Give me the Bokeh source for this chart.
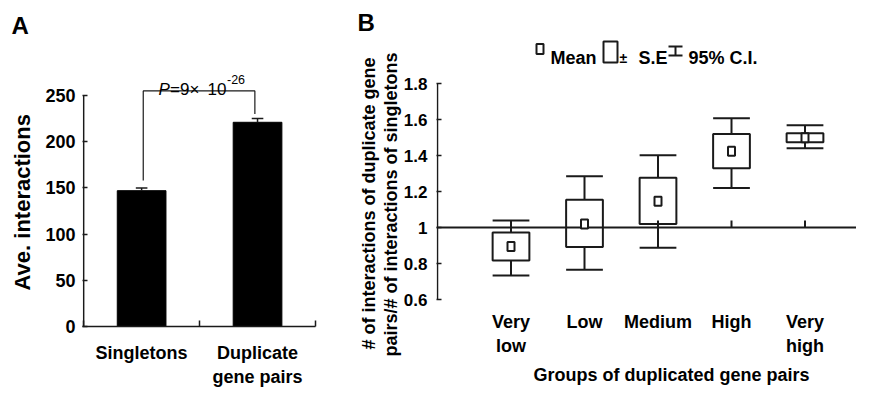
from bokeh.plotting import figure
from bokeh.models import Range1d, FixedTicker, Span, Title
from bokeh.layouts import row, column
from bokeh.embed import file_html
from bokeh.resources import INLINE
from bokeh.core.properties import value

FONT = "Liberation Sans"
INK = "#1a1a1a"

# ---------------- Panel A data ----------------
a_categories = ["Singletons", "Duplicate\ngene pairs"]
a_means = [147, 221]
a_errors = [3, 4]
a_yticks = [0, 50, 100, 150, 200, 250]
a_pvalue_main = "=9\u00d7"
a_pvalue_base = "10"
a_pvalue_exp = "-26"

# ---------------- Panel B data ----------------
b_groups = ["Very\nlow", "Low", "Medium", "High", "Very\nhigh"]
b_mean = [0.894, 1.02, 1.146, 1.424, 1.498]
b_se_lo = [0.817, 0.891, 1.02, 1.329, 1.474]
b_se_hi = [0.972, 1.154, 1.276, 1.52, 1.524]
b_ci_lo = [0.733, 0.765, 0.887, 1.22, 1.44]
b_ci_hi = [1.039, 1.285, 1.402, 1.607, 1.568]
b_yticks = [0.6, 0.8, 1.0, 1.2, 1.4, 1.6, 1.8]
b_ref = 1.0

FIG_H = 389


def make_title(text, size, style="bold", **kw):
    return Title(text=text, text_font=FONT, text_font_size=size, text_font_style=style,
                 text_color="black", **kw)


common = dict(text_font=value(FONT), text_baseline="alphabetic", text_align="left", text_color="black")

# =============== Panel A ===============
A_UNIT_X = 115.92     # px per category
A_UNIT_Y = 0.924      # px per interaction
a_x0 = -0.01
A_TOP, A_BOTTOM = 38, 63
pA = figure(width=330, height=FIG_H, x_range=Range1d(a_x0, 2.0),
            y_range=Range1d(0, (FIG_H - A_TOP - A_BOTTOM) / A_UNIT_Y),
            output_backend="svg", toolbar_location=None,
            min_border_left=82, min_border_right=15,
            min_border_top=A_TOP, min_border_bottom=A_BOTTOM)
pA.outline_line_color = None
pA.grid.visible = False

ax_pos = [i + 0.5 for i in range(len(a_categories))]
pA.vbar(x=ax_pos, top=a_means, width=0.42, fill_color="black", line_color="black")
err_top = [m + e for m, e in zip(a_means, a_errors)]
pA.segment(x0=ax_pos, y0=a_means, x1=ax_pos, y1=err_top, line_color=INK, line_width=1.5)
pA.segment(x0=[x - 0.05 for x in ax_pos], y0=err_top, x1=[x + 0.05 for x in ax_pos], y1=err_top,
           line_color=INK, line_width=1.5)
# y axis line (only up to the top tick)
pA.segment(x0=[0], y0=[a_yticks[0]], x1=[0], y1=[a_yticks[-1]], line_color=INK, line_width=1.5)

# significance bracket
br_top = 255
br_x = [ax_pos[0] + 0.014, ax_pos[0] + 0.014, ax_pos[1] - 0.023, ax_pos[1] - 0.023]
br_y = [err_top[0] + 8, br_top, br_top, err_top[1] + 5]
pA.line(x=br_x, y=br_y, line_color=INK, line_width=1.2)


def ax_(px):
    return a_x0 + (px - 82) / A_UNIT_X


def ay_(py):
    return (326 - py) / A_UNIT_Y


pA.text(x=[ax_(158)], y=[ay_(88.5)], text=["P"], text_font_size="17px", text_font_style="italic", **common)
pA.text(x=[ax_(169.5)], y=[ay_(88.5)], text=[a_pvalue_main], text_font_size="17px", **common)
pA.text(x=[ax_(207)], y=[ay_(88.5)], text=[a_pvalue_base], text_font_size="17px", **common)
pA.text(x=[ax_(226.5)], y=[ay_(78.5)], text=[a_pvalue_exp], text_font_size="12.5px", **common)

pA.add_layout(make_title("A", "24px", align="left", offset=-71, standoff=0), "above")
# align="left" on a left panel: text starts offset px above the frame bottom
pA.add_layout(make_title("Ave. interactions", "22px", align="left", offset=36, standoff=15), "left")

pA.xaxis.ticker = FixedTicker(ticks=ax_pos, minor_ticks=[0, 1, 2])
pA.xaxis.major_label_overrides = {x: c for x, c in zip(ax_pos, a_categories)}
pA.xaxis.major_tick_line_color = None
pA.xaxis.minor_tick_in = 6
pA.xaxis.minor_tick_out = 0
pA.xaxis.minor_tick_line_color = INK
pA.xaxis.minor_tick_line_width = 1.5
pA.xaxis.axis_line_color = INK
pA.xaxis.axis_line_width = 1.5
pA.xaxis.major_label_standoff = 10

pA.yaxis.ticker = FixedTicker(ticks=a_yticks, minor_ticks=[])
pA.yaxis.axis_line_color = None
pA.yaxis.major_tick_in = 5
pA.yaxis.major_tick_out = 0
pA.yaxis.major_tick_line_color = INK
pA.yaxis.major_tick_line_width = 1.5
pA.yaxis.major_label_standoff = 7
for ax in (pA.xaxis, pA.yaxis):
    ax.major_label_text_font = FONT
    ax.major_label_text_font_style = "bold"
    ax.major_label_text_font_size = "18px"
    ax.major_label_text_color = "black"

# =============== Panel B ===============
B_UNIT_X = 73.5
B_UNIT_Y = 180.0
B_TOP, B_BOTTOM = 38, 90
pB = figure(width=526, height=FIG_H,
            x_range=Range1d(-1 / B_UNIT_X, 419 / B_UNIT_X),
            y_range=Range1d(0.6, 0.6 + (FIG_H - B_TOP - B_BOTTOM) / B_UNIT_Y),
            output_backend="svg", toolbar_location=None,
            min_border_left=106, min_border_right=0,
            min_border_top=B_TOP, min_border_bottom=B_BOTTOM)
pB.outline_line_color = None
pB.grid.visible = False


def bx_(px):
    return (px - 437) / B_UNIT_X


def by_(py):
    return 0.6 + (299 - py) / B_UNIT_Y


bx = [i + 1 for i in range(len(b_groups))]
hw = 0.25
pB.add_layout(Span(location=b_ref, dimension="width", line_color=INK, line_width=2, level="underlay"))
pB.segment(x0=bx, y0=[b_ref] * len(bx), x1=bx, y1=[b_ref + 7 / B_UNIT_Y] * len(bx),
           line_color=INK, line_width=2)
pB.segment(x0=[0], y0=[b_yticks[0]], x1=[0], y1=[b_yticks[-1]], line_color=INK, line_width=1.5)

pB.segment(x0=bx, y0=b_se_hi, x1=bx, y1=b_ci_hi, line_color=INK, line_width=2)
pB.segment(x0=bx, y0=b_ci_lo, x1=bx, y1=b_se_lo, line_color=INK, line_width=2)
pB.segment(x0=[x - hw for x in bx], y0=b_ci_hi, x1=[x + hw for x in bx], y1=b_ci_hi,
           line_color=INK, line_width=2)
pB.segment(x0=[x - hw for x in bx], y0=b_ci_lo, x1=[x + hw for x in bx], y1=b_ci_lo,
           line_color=INK, line_width=2)
pB.quad(left=[x - hw for x in bx], right=[x + hw for x in bx], bottom=b_se_lo, top=b_se_hi,
        fill_color=None, line_color=INK, line_width=2)
pB.rect(x=bx, y=b_mean, width=7, height=9, width_units="screen", height_units="screen",
        fill_color="white", line_color=INK, line_width=2)

# legend
pB.rect(x=[bx_(539.5)], y=[by_(48.5)], width=7, height=10, width_units="screen",
        height_units="screen", fill_color="white", line_color=INK, line_width=2)
pB.rect(x=[bx_(610)], y=[by_(51.5)], width=14, height=21, width_units="screen",
        height_units="screen", fill_color="white", line_color=INK, line_width=2)
pB.segment(x0=[bx_(675)], y0=[by_(46)], x1=[bx_(675)], y1=[by_(55)], line_color=INK, line_width=2)
pB.segment(x0=[bx_(668), bx_(668)], y0=[by_(46), by_(55)], x1=[bx_(682), bx_(682)],
           y1=[by_(46), by_(55)], line_color=INK, line_width=2)
leg_txt = ["Mean", "S.E", "95% C.I."]
leg_x = [bx_(550), bx_(638), bx_(688)]
pB.text(x=leg_x, y=[by_(57)] * 3, text=leg_txt, text_font_size="18px", text_font_style="bold", **common)
pB.text(x=[bx_(619)], y=[by_(57)], text=["\u00b1"], text_font_size="14px", text_font_style="bold", **common)

pB.add_layout(make_title("B", "24px", align="left", offset=-79, standoff=6), "above")
pB.add_layout(make_title("pairs/# of interactions of singletons", "18px", align="left",
                         offset=-57, standoff=0), "left")
pB.add_layout(make_title("# of interactions of duplicate gene", "18px", align="left",
                         offset=-50, standoff=0), "left")

pB.yaxis.ticker = FixedTicker(ticks=b_yticks, minor_ticks=[])
pB.yaxis.major_label_overrides = {1.0: "1"}
pB.yaxis.axis_line_color = None
pB.yaxis.major_tick_in = 5
pB.yaxis.major_tick_out = 0
pB.yaxis.major_tick_line_color = INK
pB.yaxis.major_tick_line_width = 1.5
pB.yaxis.major_label_standoff = 9
pB.yaxis.major_label_text_font_size = "17px"

pB.xaxis.ticker = FixedTicker(ticks=bx, minor_ticks=[])
pB.xaxis.major_label_overrides = {x: g for x, g in zip(bx, b_groups)}
pB.xaxis.axis_line_color = None
pB.xaxis.major_tick_line_color = None
pB.xaxis.minor_tick_line_color = None
pB.xaxis.major_label_standoff = 6
pB.xaxis.major_label_text_font_size = "18px"
for ax in (pB.xaxis, pB.yaxis):
    ax.major_label_text_font = FONT
    ax.major_label_text_font_style = "bold"
    ax.major_label_text_color = "black"

pB.add_layout(make_title("Groups of duplicated gene pairs", "18px", align="left",
                         offset=97, standoff=8), "below")

layout = row(column(pA), column(pB))
open("out.html", "w").write(file_html(layout, INLINE))
